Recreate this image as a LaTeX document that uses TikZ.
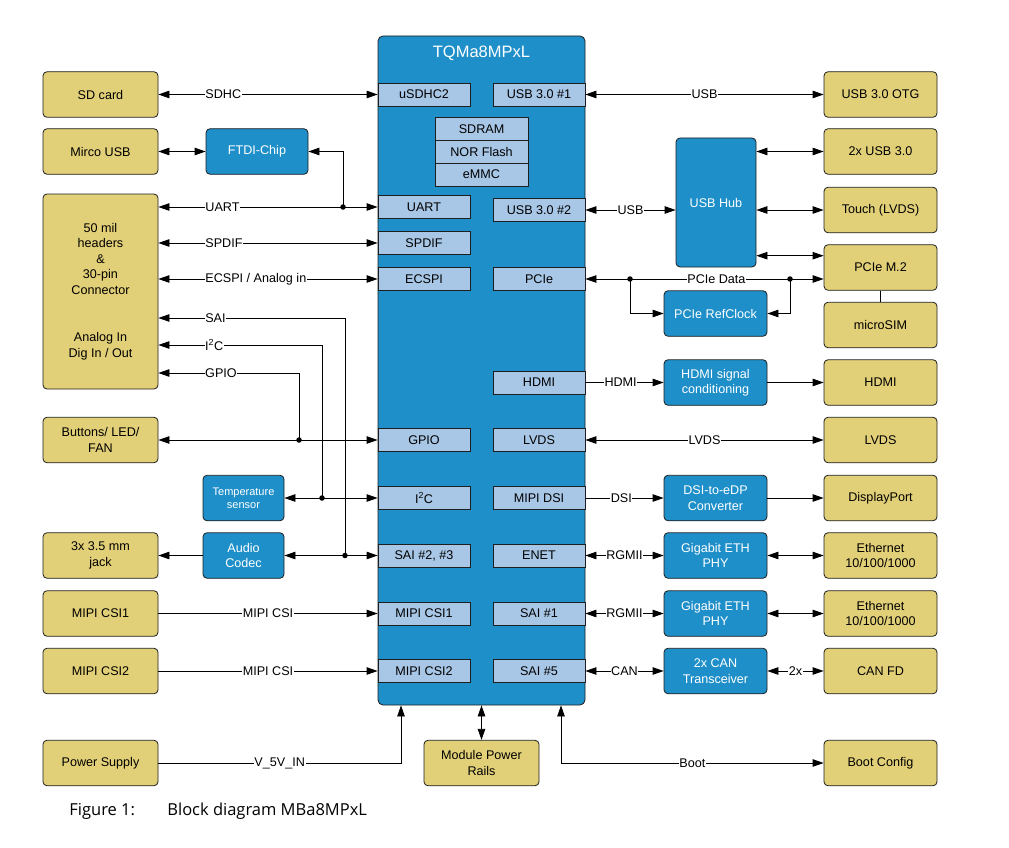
\documentclass[tikz,border=0pt]{standalone}
\usepackage{fontspec}
\setmainfont{Liberation Sans}
\newfontfamily\figcapfont{Open Sans}
\usetikzlibrary{arrows.meta}
\definecolor{extyellow}{RGB}{226,208,120}
\definecolor{chipblue}{RGB}{31,143,201}
\definecolor{portblue}{RGB}{168,198,229}
\definecolor{edge}{RGB}{30,30,30}
\newcommand\dgfont{\fontsize{12.6pt}{15.5pt}\selectfont}
\tikzset{extbox/.style={draw=edge, fill=extyellow, rounded corners=4pt, minimum width=115pt, minimum height=45.5pt, align=center, font=\dgfont, inner sep=1pt},
         chipbox/.style={draw=edge, fill=chipblue, text=white, rounded corners=4pt, minimum width=103pt, minimum height=45.5pt, align=center, font=\dgfont, inner sep=1pt},
         portbox/.style={draw=edge, fill=portblue, minimum width=92pt, minimum height=23pt, font=\dgfont, inner sep=1pt},
         lbl/.style={fill=white, inner sep=0.6pt, font=\dgfont},
         jdot/.style={circle, fill=black, inner sep=0pt, minimum size=5.5pt}}

\begin{document}
\begin{tikzpicture}[x=1pt, y=-1pt, line width=0.8pt, >={Triangle[length=11pt,width=7.5pt]}]
  \useasboundingbox (0,0) rectangle (1009,848);
  \begin{scope}
   \node[draw=edge, fill=chipblue, rounded corners=5pt, minimum width=207pt, minimum height=669pt] (mod) at (481.5,370.5) {};
   \node[text=white, font=\fontsize{16.5pt}{18pt}\selectfont] (ttl) at (481.5,53) {TQMa8MPxL};
   \node[portbox] (usdhc) at (424, 94.5) {uSDHC2};
   \node[portbox] (uart)  at (424,207.0) {UART};
   \node[portbox] (spdif) at (424,243.0) {SPDIF};
   \node[portbox] (ecspi) at (424,279.0) {ECSPI};
   \node[portbox] (gpio)  at (424,440.0) {GPIO};
   \node[portbox] (iic)   at (424,498.0) {I\textsuperscript{2}C};
   \node[portbox] (saia)  at (424,555.5) {SAI \#2, \#3};
   \node[portbox] (csia)  at (424,613.5) {MIPI CSI1};
   \node[portbox] (csib)  at (424,671.0) {MIPI CSI2};
   \node[portbox] (usba)  at (539, 94.5) {USB 3.0 \#1};
   \node[portbox] (usbb)  at (539,210.0) {USB 3.0 \#2};
   \node[portbox] (pcie)  at (539,279.0) {PCIe};
   \node[portbox] (hdmi)  at (539,382.5) {HDMI};
   \node[portbox] (lvds)  at (539,440.0) {LVDS};
   \node[portbox] (dsi)   at (539,498.0) {MIPI DSI};
   \node[portbox] (enet)  at (539,555.5) {ENET};
   \node[portbox] (saib)  at (539,613.5) {SAI \#1};
   \node[portbox] (saic)  at (539,671.0) {SAI \#5};
   \node[portbox, minimum width=93pt, minimum height=22.8pt] (sdram) at (481.5,129.0) {SDRAM};
   \node[portbox, minimum width=93pt, minimum height=22.8pt] (nor)   at (481.5,151.8) {NOR Flash};
   \node[portbox, minimum width=93pt, minimum height=22.8pt] (emmc)  at (481.5,174.6) {eMMC};
  \end{scope}
  \begin{scope}
   \node[extbox] (sd)    at (100.5, 94.5) {SD card};
   \node[extbox] (musb)  at (100.5,151.5) {Mirco USB};
   \node[extbox, minimum height=195pt] (hdr) at (100.5,291.5)
        {50 mil\\headers\\\&\\30-pin\\Connector\\[32pt]Analog In\\Dig In / Out};
   \node[extbox] (btn)   at (100.5,440.0) {Buttons/ LED/\\FAN};
   \node[extbox] (jack)  at (100.5,555.5) {3x 3.5 mm\\jack};
   \node[extbox] (csi1)  at (100.5,613.5) {MIPI CSI1};
   \node[extbox] (csi2)  at (100.5,671.0) {MIPI CSI2};
   \node[extbox] (psu)   at (100.5,763.0) {Power Supply};
   \node[extbox] (rails) at (481.5,763.0) {Module Power\\Rails};
  \end{scope}
  \begin{scope}[extbox/.append style={minimum width=113pt}]
   \node[extbox] (otg)   at (880.5, 94.5) {USB 3.0 OTG};
   \node[extbox] (usbx)  at (880.5,151.5) {2x USB 3.0};
   \node[extbox] (touch) at (880.5,210.0) {Touch (LVDS)};
   \node[extbox] (mtwo)  at (880.5,267.5) {PCIe M.2};
   \node[extbox] (sim)   at (880.5,325.0) {microSIM};
   \node[extbox] (hdmo)  at (880.5,382.5) {HDMI};
   \node[extbox] (lvdo)  at (880.5,440.0) {LVDS};
   \node[extbox] (dp)    at (880.5,498.0) {DisplayPort};
   \node[extbox] (etha)  at (880.5,555.5) {Ethernet\\10/100/1000};
   \node[extbox] (ethb)  at (880.5,613.5) {Ethernet\\10/100/1000};
   \node[extbox] (canfd) at (880.5,671.0) {CAN FD};
   \node[extbox] (boot)  at (880.5,763.0) {Boot Config};
  \end{scope}
  \begin{scope}
   \node[chipbox, minimum width=102pt] (ftdi) at (257,151.5) {FTDI-Chip};
   \node[chipbox, minimum width=81pt, font=\fontsize{11pt}{13.4pt}\selectfont] (temp) at (243.5,498.0) {Temperature\\sensor};
   \node[chipbox, minimum width=81pt] (codec) at (243.5,555.5) {Audio\\Codec};
   \node[chipbox, minimum width=80pt, minimum height=129pt] (hub) at (716,202.5) {USB Hub};
   \node[chipbox] (refclk) at (715.5,313.5) {PCIe RefClock};
   \node[chipbox] (hdmc)   at (715.5,382.5) {HDMI signal\\conditioning};
   \node[chipbox] (edp)    at (715.5,498.0) {DSI-to-eDP\\Converter};
   \node[chipbox] (phya)   at (715.5,555.5) {Gigabit ETH\\PHY};
   \node[chipbox] (phyb)   at (715.5,613.5) {Gigabit ETH\\PHY};
   \node[chipbox] (can)    at (715.5,671.0) {2x CAN\\Transceiver};
  \end{scope}
  \node[jdot] (ju)  at (343,207.0) {};
  \node[jdot] (jg)  at (299,440.0) {};
  \node[jdot] (ji)  at (322,498.0) {};
  \node[jdot] (js)  at (345,555.5) {};
  \node[jdot] (jpa) at (630,279.0) {};
  \node[jdot] (jpb) at (790,279.0) {};
  \coordinate (vin)  at ([xshift=-80.5pt]mod.south);
  \coordinate (bt)   at ([xshift=79.5pt]mod.south);
  \coordinate (mtop) at ([yshift=11.8pt]mtwo.west);

  \draw[<->] (sd) -- node[lbl, pos=0.21, anchor=west] {SDHC} (usdhc);
  \draw[<->] (musb) -- (ftdi);
  \draw[->]  (ju.center) |- (ftdi.east);
  \draw[<->] (hdr.east |- uart)  -- node[lbl, pos=0.21, anchor=west] {UART} (uart.west);
  \draw[<->] (hdr.east |- spdif) -- node[lbl, pos=0.21, anchor=west] {SPDIF} (spdif.west);
  \draw[<->] (hdr.east |- ecspi) -- node[lbl, pos=0.21, anchor=west] {ECSPI / Analog in} (ecspi.west);
  \draw[<-]  (hdr.east |- 0,318) -| node[lbl, pos=0.123, anchor=west] {SAI} (js.center);
  \draw[<-]  (hdr.east |- 0,345) -| node[lbl, pos=0.14, anchor=west] {I\textsuperscript{2}C} (ji.center);
  \draw[<-]  (hdr.east |- 0,373) -| node[lbl, pos=0.163, anchor=west] {GPIO} (jg.center);
  \draw[<->] (btn) -- (gpio);
  \draw[<->] (temp) -- (iic);
  \draw[<->] (codec) -- (saia);
  \draw[->]  (codec) -- (jack);
  \draw[->]  (csi1) -- node[lbl] {MIPI CSI} (csia);
  \draw[->]  (csi2) -- node[lbl] {MIPI CSI} (csib);
  \draw[->]  (psu) -| node[lbl, pos=0.25] {V\_5V\_IN} (vin);
  \draw[<->] (rails) -- (rails |- mod.south);
  \draw[<->] (bt) |- node[lbl, pos=0.75] {Boot} (boot);

  \draw[<->] (usba) -- node[lbl] {USB} (otg);
  \draw[<->] (usbb.east) -- node[lbl] {USB} (usbb.east -| hub.west);
  \draw[<->] (hub.east |- usbx)  -- (usbx);
  \draw[<->] (hub.east |- touch) -- (touch);
  \draw[<->] (hub.east |- mtop)  -- (mtop);
  \draw[<->] (pcie) -- node[lbl, pos=0.55] {PCIe Data} (pcie.east -| mtwo.west);
  \draw[->]  (jpa.center) |- (refclk);
  \draw[->]  (jpb.center) |- (refclk);
  \draw[line width=1.4pt] (mtwo) -- (sim);
  \draw[->]  (hdmi) -- node[lbl, pos=0.45] {HDMI} (hdmc);
  \draw[->]  (hdmc) -- (hdmo);
  \draw[<->] (lvds) -- node[lbl] {LVDS} (lvdo);
  \draw[->]  (dsi) -- node[lbl, pos=0.46] {DSI} (edp);
  \draw[->]  (edp) -- (dp);
  \draw[<->] (enet) -- node[lbl] {RGMII} (phya);
  \draw[<->] (phya) -- (etha);
  \draw[<->] (saib) -- node[lbl] {RGMII} (phyb);
  \draw[<->] (phyb) -- (ethb);
  \draw[<->] (saic) -- node[lbl] {CAN} (can);
  \draw[<->] (can) -- node[lbl] {2x} (canfd);

  \node[anchor=base west, inner sep=0pt, font=\figcapfont\fontsize{16.5pt}{18pt}\selectfont] (fign) at (69,815) {Figure 1:};
  \node[anchor=base west, inner sep=0pt, font=\figcapfont\fontsize{16.5pt}{18pt}\selectfont] (figt) at (167,815) {Block diagram MBa8MPxL};
 \end{tikzpicture}
\end{document}
